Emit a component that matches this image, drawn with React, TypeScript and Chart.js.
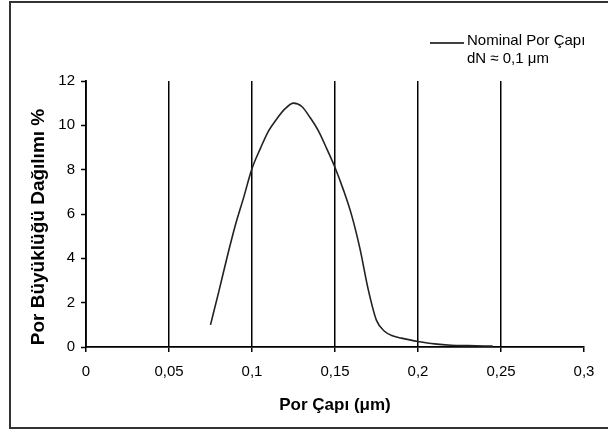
import React, { useEffect, useRef } from "react";
import { Chart, registerables } from "chart.js";

Chart.register(...registerables);

const poreDiameter = [0.075, 0.08, 0.085, 0.09, 0.095, 0.1, 0.105, 0.11, 0.115, 0.12, 0.125, 0.13, 0.135, 0.14, 0.145, 0.15, 0.155, 0.16, 0.165, 0.17, 0.175, 0.18, 0.185, 0.19, 0.195, 0.2, 0.21, 0.22, 0.23, 0.245];
const distribution = [1.0, 2.5, 4.05, 5.5, 6.75, 8.05, 8.95, 9.75, 10.3, 10.75, 11.0, 10.85, 10.35, 9.75, 8.95, 8.1, 7.1, 5.95, 4.45, 2.6, 1.2, 0.7, 0.5, 0.4, 0.32, 0.25, 0.14, 0.08, 0.06, 0.04];
const xTicks = [0, 0.05, 0.1, 0.15, 0.2, 0.25, 0.3];
const yTicks = [0, 2, 4, 6, 8, 10, 12];
const seriesName = "Nominal Por Çapı";
const seriesNote = "dN ≈ 0,1 μm";
const xTitle = "Por Çapı (μm)";
const yTitle = "Por Büyüklüğü Dağılımı %";

const FONT = "'Liberation Sans', Arial, sans-serif";

const decorPlugin = {
  id: "decor",
  beforeDraw(chart: any) {
    const ctx = chart.ctx;
    ctx.save();
    ctx.fillStyle = "#fff";
    ctx.fillRect(0, 0, chart.width, chart.height);
    ctx.strokeStyle = "#333";
    ctx.lineWidth = 2;
    ctx.strokeRect(10, 2, 640, 426);
    ctx.restore();
  },
  afterDraw(chart: any) {
    const ctx = chart.ctx;
    const area = chart.chartArea;
    ctx.save();
    // legend
    ctx.strokeStyle = "#000";
    ctx.lineWidth = 1.5;
    ctx.beginPath();
    ctx.moveTo(430, 43);
    ctx.lineTo(464, 43);
    ctx.stroke();
    ctx.fillStyle = "#000";
    ctx.font = `15px ${FONT}`;
    ctx.textAlign = "left";
    ctx.textBaseline = "middle";
    ctx.fillText(seriesName, 467, 41);
    ctx.fillText(seriesNote, 467, 59);
    // x title
    ctx.font = `bold 17px ${FONT}`;
    ctx.textAlign = "center";
    ctx.fillText(xTitle, (area.left + area.right) / 2, 405);
    // y title
    ctx.translate(39, 227);
    ctx.rotate(-Math.PI / 2);
    ctx.font = `bold 19px ${FONT}`;
    ctx.fillText(yTitle, 0, 0);
    ctx.restore();
  },
};

const fmt = (v: number) => Number(v.toFixed(2)).toString().replace(".", ",");

export default function App() {
  const ref = useRef<HTMLCanvasElement>(null);
  useEffect(() => {
    if (!ref.current) return;
    const chart = new Chart(ref.current, {
      type: "line",
      data: {
        datasets: [
          {
            label: seriesName,
            data: poreDiameter.map((x, i) => ({ x, y: distribution[i] })),
            borderColor: "#222",
            borderWidth: 1.6,
            cubicInterpolationMode: "monotone",
            pointRadius: 0,
            fill: false,
          },
        ],
      },
      options: {
        animation: false,
        responsive: false,
        layout: { padding: { left: 0, top: 81, right: 24, bottom: 0 } },
        plugins: { legend: { display: false }, tooltip: { enabled: false } },
        scales: {
          x: {
            type: "linear",
            min: 0,
            max: 0.3,
            afterBuildTicks: (scale: any) => {
              scale.ticks = xTicks.map((value) => ({ value }));
            },
            afterFit: (scale: any) => {
              scale.height = 83;
            },
            ticks: {
              callback: (v: any) => fmt(Number(v)),
              font: { family: FONT, size: 15 },
              color: "#000",
              padding: 11,
              maxRotation: 0,
              autoSkip: false,
            },
            grid: {
              color: (c: any) => (c.tick && c.tick.value === 0.3 ? "rgba(0,0,0,0)" : "#000"),
              tickColor: "#000",
              lineWidth: 1.5,
              tickWidth: 1.5,
              tickLength: 5,
              drawTicks: true,
            },
            border: { display: true, color: "#000", width: 1.8 },
          },
          y: {
            type: "linear",
            min: 0,
            max: 12,
            afterBuildTicks: (scale: any) => {
              scale.ticks = yTicks.map((value) => ({ value }));
            },
            afterFit: (scale: any) => {
              scale.width = 86;
            },
            ticks: {
              font: { family: FONT, size: 15 },
              color: "#000",
              padding: 6,
            },
            grid: {
              drawOnChartArea: false,
              drawTicks: true,
              tickLength: 5,
              tickColor: "#000",
              tickWidth: 1.5,
            },
            border: { display: true, color: "#000", width: 1.8 },
          },
        },
      },
      plugins: [decorPlugin],
    });
    return () => chart.destroy();
  }, []);
  return (
    <div style={{ position: "fixed", left: 0, top: 0, width: 608, height: 430, background: "#fff" }}>
      <canvas ref={ref} width={608} height={430} style={{ display: "block" }} />
    </div>
  );
}
